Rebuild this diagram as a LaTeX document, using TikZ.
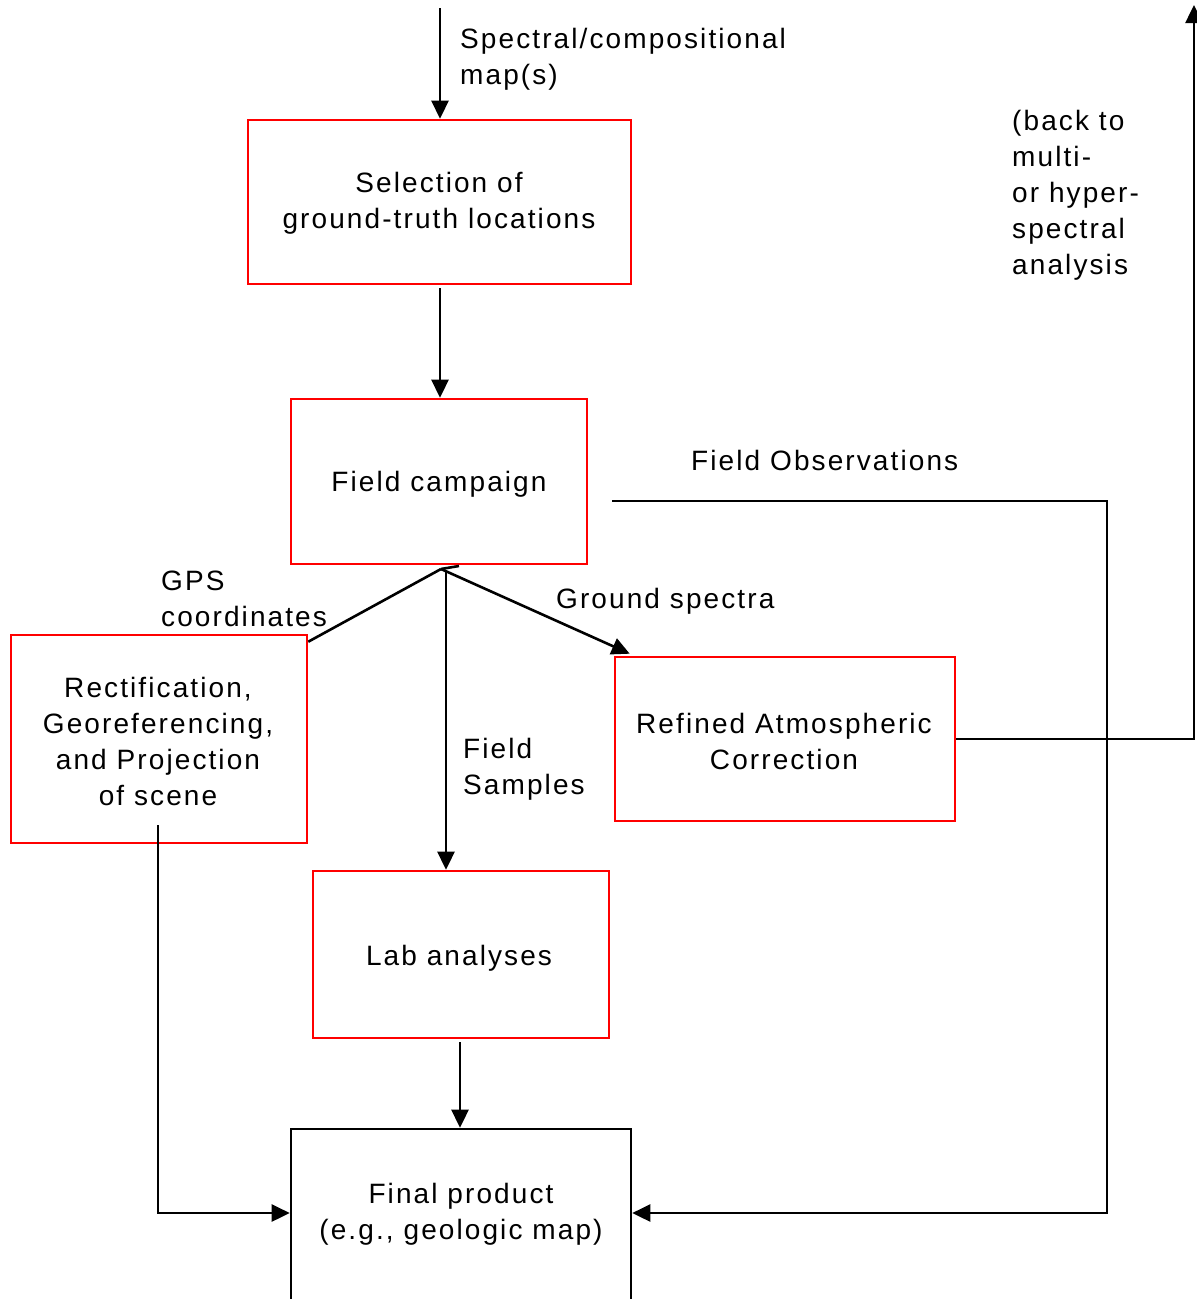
\documentclass[tikz,border=0pt]{standalone}
\usepackage{fontspec}
\setmainfont{Liberation Sans}[LetterSpace=7.5]
\usetikzlibrary{arrows.meta}
\begin{document}
\begin{tikzpicture}[x=1pt,y=-1pt,
  every node/.style={font=\fontsize{28}{36}\selectfont, text=black},
  redbox/.style={draw=red, line width=2.6pt, align=center, inner sep=0pt},
  blackbox/.style={draw=black, line width=2.6pt, align=center, inner sep=0pt},
  boxtext/.style={align=center, inner sep=0pt},
  conn/.style={draw=black, line width=2.6pt},
  arr/.style={conn, -{Triangle[length=18pt,width=17pt]}},
  lbl/.style={align=left, inner sep=0pt, anchor=west}]
\clip (0,0) rectangle (1197,1299);
\fill[white] (0,0) rectangle (1197,1299);

% boxes
\node[redbox, minimum width=383pt, minimum height=164pt] (sel) at (439.5,202) {};
\node[boxtext] (seltxt) at (439,203) {Selection of\\ground-truth locations};
\node[redbox, minimum width=296pt, minimum height=165pt] (field) at (439,481.5) {};
\node[boxtext] (fieldtxt) at (439,484) {Field campaign};
\node[redbox, minimum width=296pt, minimum height=208pt] (rect) at (159,739) {};
\node[boxtext] (recttxt) at (158,741) {Rectification,\\Georeferencing,\\and Projection\\of scene};
\node[redbox, minimum width=340pt, minimum height=164pt] (refined) at (785,739) {};
\node[boxtext] (reftxt) at (784,741) {Refined Atmospheric\\Correction};
\node[redbox, minimum width=296pt, minimum height=167pt] (lab) at (461,954.5) {};
\node[boxtext] (labtxt) at (459,958) {Lab analyses};
\node[blackbox, minimum width=340pt, minimum height=181pt] (final) at (461,1219.5) {};
\node[boxtext] (finaltxt) at (461,1214) {Final product\\(e.g., geologic map)};

% labels
\node[lbl] (lspec) at (460,59) {Spectral/compositional\\map(s)};
\node[lbl] (lback) at (1012,195) {(back to\\multi-\\or hyper-\\spectral\\analysis};
\node[lbl] (lfo) at (691,460) {Field Observations};
\node[lbl] (lgps) at (161,599) {GPS\\coordinates};
\node[lbl] (lgs) at (556,601) {Ground spectra};
\node[lbl] (lfs) at (463,769) {Field\\Samples};

% connectors
\coordinate (top) at (440,8);
\draw[arr] (top) -- (top |- sel.north);
\coordinate (s2) at (440,288);
\draw[arr] (s2) -- (s2 |- field.north);

\coordinate (br) at (441,569);
\draw[conn] (br) -- ++(18,-3);
\draw[conn] (br) -- ([yshift=-8pt]rect.north east);
\draw[arr] (br) -- ([xshift=16pt,yshift=2pt]refined.north west);
\coordinate (vtop) at (446,570);
\draw[arr] (vtop) -- (vtop |- lab.north);

\coordinate (fo) at (612,501);
\coordinate (fc) at (1107,501);
\coordinate (fend) at ([yshift=6.5pt]final.east);
\draw[arr] (fo) -- (fc) -- (fc |- fend) -- (fend);

\coordinate (ra) at (1194,5);
\draw[arr] (refined.east) -- (ra |- refined.east) -- (ra);

\coordinate (rb) at (158,825);
\coordinate (lend) at ([yshift=6.5pt]final.west);
\draw[arr] (rb) -- (rb |- lend) -- (lend);

\coordinate (l2) at (460,1042);
\draw[arr] (l2) -- (l2 |- final.north);
\end{tikzpicture}
\end{document}
